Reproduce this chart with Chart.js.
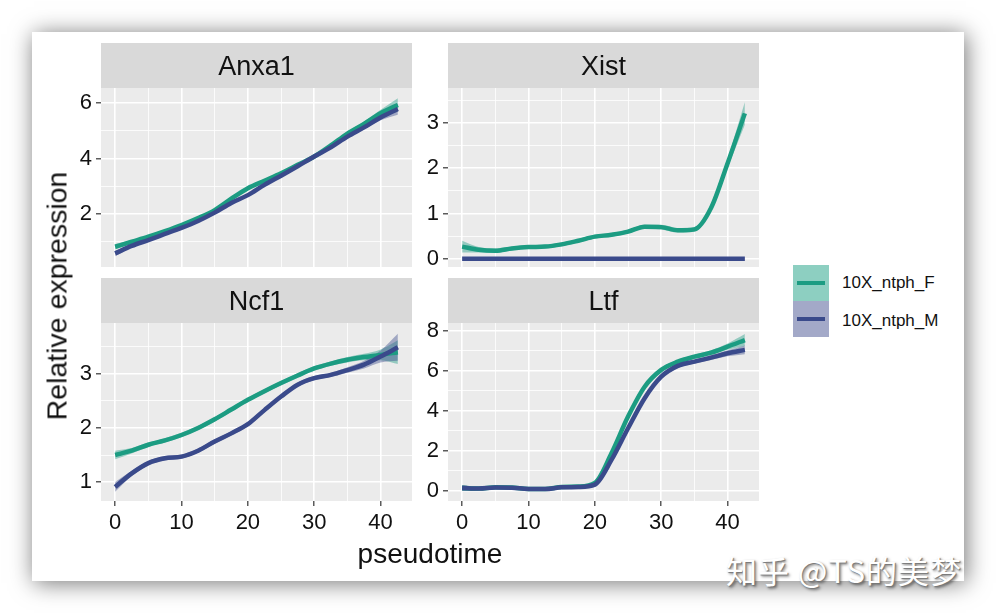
<!DOCTYPE html>
<html>
<head>
<meta charset="utf-8">
<script src="https://cdn.jsdelivr.net/npm/chart.js@4.4.0/dist/chart.umd.min.js"></script>
<style>
  body { margin: 0; width: 996px; height: 613px; background: #fff; position: relative; overflow: hidden;
         font-family: "Liberation Sans", Arial, sans-serif; }
  #card { position: absolute; left: 32px; top: 32px; width: 932px; height: 549px; background: #fff;
          box-shadow: 2px 2px 22px rgba(0,0,0,0.55); }
  canvas { position: absolute; }
  #ytitle { position: absolute; left: 57px; top: 296px; transform: translate(-50%, -50%) rotate(-90deg);
            font-size: 28.5px; color: #111; white-space: nowrap; }
  #xtitle { position: absolute; left: 430px; top: 554px; transform: translate(-50%, -50%);
            font-size: 28px; color: #111; white-space: nowrap; }
  .key { position: absolute; left: 793px; width: 36px; height: 36px; }
  .key i { position: absolute; left: 4px; right: 4px; top: 16px; height: 4px; }
  .lab { position: absolute; left: 842px; font-size: 17px; color: #111; line-height: 20px; }
  #mark { position: absolute; left: 726px; top: 553px; font-size: 31px; color: #fff; letter-spacing: 1px;
          font-family: "Noto Sans CJK SC", sans-serif; line-height: 34px;
          text-shadow: 1px 1px 1px #777, 2px 2px 3px rgba(0,0,0,0.5); white-space: nowrap; }
</style>
</head>
<body>
<div id="card"></div>
<canvas id="cAnxa1" width="352" height="224" style="left:62px;top:43px"></canvas>
<canvas id="cXist" width="352" height="224" style="left:409px;top:43px"></canvas>
<canvas id="cNcf1" width="352" height="263" style="left:62px;top:278px"></canvas>
<canvas id="cLtf" width="352" height="263" style="left:409px;top:278px"></canvas>
<div id="ytitle">Relative expression</div>
<div id="xtitle">pseudotime</div>
<div class="key" style="top:265px;background:#8dcfc1"><i style="background:#1c9c82"></i></div>
<div class="key" style="top:301px;background:#a3a9c8"><i style="background:#3a4a8b"></i></div>
<div class="lab" style="top:273px">10X_ntph_F</div>
<div class="lab" style="top:311px">10X_ntph_M</div>
<div id="mark">知乎 @TS的美梦</div>

<script>
// pseudotime positions where the curves were read
const pseudotime = [0, 2.5, 5, 7.5, 10, 12.5, 15, 17.5, 20, 22.5, 25, 27.5, 30, 32.5, 35, 37.5, 40, 42.6];
const seriesNames = ['10X_ntph_F', '10X_ntph_M'];
const xMajor = [0, 10, 20, 30, 40];

// Anxa1
const anxa1F = [0.82, 1.0, 1.18, 1.38, 1.6, 1.85, 2.14, 2.55, 2.93, 3.2, 3.47, 3.77, 4.07, 4.47, 4.9, 5.25, 5.63, 5.93];
const anxa1M = [0.58, 0.85, 1.06, 1.28, 1.5, 1.75, 2.05, 2.4, 2.68, 3.05, 3.38, 3.72, 4.07, 4.4, 4.79, 5.12, 5.48, 5.78];
const anxa1Fse = [0.1, 0.06, 0.05, 0.04, 0.04, 0.04, 0.04, 0.04, 0.04, 0.04, 0.04, 0.04, 0.04, 0.05, 0.06, 0.08, 0.13, 0.24];
const anxa1Mse = [0.1, 0.06, 0.05, 0.04, 0.04, 0.04, 0.04, 0.04, 0.04, 0.04, 0.04, 0.04, 0.04, 0.05, 0.05, 0.07, 0.1, 0.2];
const anxa1Ticks = [2, 4, 6];

// Xist
const xistF = [0.27, 0.2, 0.18, 0.23, 0.26, 0.27, 0.32, 0.4, 0.49, 0.53, 0.6, 0.71, 0.7, 0.63, 0.65, 1.12, 2.11, 3.21];
const xistM = [0, 0, 0, 0, 0, 0, 0, 0, 0, 0, 0, 0, 0, 0, 0, 0, 0, 0];
const xistFse = [0.13, 0.06, 0.05, 0.04, 0.04, 0.04, 0.04, 0.04, 0.04, 0.04, 0.04, 0.04, 0.05, 0.05, 0.05, 0.06, 0.1, 0.25];
const xistMse = [0, 0, 0, 0, 0, 0, 0, 0, 0, 0, 0, 0, 0, 0, 0, 0, 0, 0];
const xistTicks = [0, 1, 2, 3];

// Ncf1
const ncf1F = [1.5, 1.58, 1.69, 1.77, 1.87, 2.0, 2.16, 2.34, 2.52, 2.68, 2.83, 2.97, 3.1, 3.19, 3.26, 3.31, 3.35, 3.4];
const ncf1M = [0.91, 1.16, 1.35, 1.44, 1.47, 1.58, 1.75, 1.9, 2.07, 2.33, 2.58, 2.8, 2.92, 2.98, 3.07, 3.17, 3.32, 3.49];
const ncf1Fse = [0.08, 0.05, 0.04, 0.04, 0.04, 0.04, 0.04, 0.04, 0.04, 0.04, 0.04, 0.04, 0.04, 0.04, 0.05, 0.06, 0.1, 0.22];
const ncf1Mse = [0.09, 0.05, 0.04, 0.04, 0.04, 0.04, 0.04, 0.04, 0.04, 0.04, 0.04, 0.04, 0.04, 0.04, 0.05, 0.07, 0.11, 0.25];
const ncf1Ticks = [1, 2, 3];

// Ltf
const ltfF = [0.15, 0.12, 0.18, 0.17, 0.1, 0.1, 0.2, 0.22, 0.4, 1.88, 3.71, 5.2, 6.04, 6.45, 6.7, 6.9, 7.2, 7.53];
const ltfM = [0.15, 0.12, 0.17, 0.16, 0.1, 0.1, 0.18, 0.2, 0.32, 1.55, 3.13, 4.63, 5.7, 6.24, 6.45, 6.65, 6.87, 7.04];
const ltfFse = [0.15, 0.08, 0.06, 0.06, 0.06, 0.06, 0.06, 0.06, 0.06, 0.08, 0.1, 0.1, 0.1, 0.1, 0.1, 0.12, 0.16, 0.3];
const ltfMse = [0.15, 0.08, 0.06, 0.06, 0.06, 0.06, 0.06, 0.06, 0.06, 0.08, 0.1, 0.1, 0.1, 0.1, 0.1, 0.12, 0.15, 0.22];
const ltfTicks = [0, 2, 4, 6, 8];

const FONT = '"Liberation Sans", Arial, sans-serif';
const tealLine = '#1c9c82', navyLine = '#3a4a8b';
const tealFill = 'rgba(28,156,130,0.42)', navyFill = 'rgba(58,74,139,0.42)';

// gray panel + strip with the facet title
const facetBg = {
  id: 'facetBg',
  beforeDraw(chart, args, opts) {
    const { ctx, chartArea: a } = chart;
    ctx.save();
    ctx.fillStyle = '#EBEBEB';
    ctx.fillRect(a.left, a.top, a.right - a.left, a.bottom - a.top);
    ctx.fillStyle = '#D9D9D9';
    ctx.fillRect(a.left, a.top - 45, a.right - a.left, 45);
    ctx.fillStyle = '#111';
    ctx.font = '27px ' + FONT;
    ctx.textAlign = 'center';
    ctx.textBaseline = 'middle';
    ctx.fillText(opts.title, (a.left + a.right) / 2, a.top - 20);
    ctx.restore();
  }
};

function pts(vals) {
  return pseudotime.map((x, i) => ({ x: x, y: vals[i] }));
}

function ribbon(vals, se, color, order) {
  const up = vals.map((v, i) => v + se[i]);
  const lo = vals.map((v, i) => v - se[i]);
  return [
    { data: pts(up), borderWidth: 0, pointRadius: 0, fill: '+1', backgroundColor: color,
      cubicInterpolationMode: 'monotone', order: order },
    { data: pts(lo), borderWidth: 0, pointRadius: 0, fill: false,
      cubicInterpolationMode: 'monotone', order: order }
  ];
}

function withMinors(majors, step, min, max) {
  // every half step between the major breaks, like ggplot's minor grid
  const out = [];
  const first = majors[0] - step * 2;
  for (let v = first; v <= majors[majors.length - 1] + step * 2; v += step / 2) {
    if (v >= min && v <= max) out.push(Math.round(v * 100) / 100);
  }
  return out;
}

function makePanel(id, title, f, m, fse, mse, yMajor, yStep, yMin, yMax, showX) {
  const xMin = -2.13, xMax = 44.73;
  const isMajorY = v => yMajor.includes(v);
  const isMajorX = v => xMajor.includes(v);
  new Chart(document.getElementById(id), {
    type: 'line',
    data: {
      datasets: [
        { label: seriesNames[1], data: pts(m), borderColor: navyLine, borderWidth: 4.5, pointRadius: 0,
          fill: false, cubicInterpolationMode: 'monotone', order: 0 },
        { label: seriesNames[0], data: pts(f), borderColor: tealLine, borderWidth: 4.5, pointRadius: 0,
          fill: false, cubicInterpolationMode: 'monotone', order: 1 },
        ...ribbon(f, fse, tealFill, 3),
        ...ribbon(m, mse, navyFill, 2)
      ]
    },
    options: {
      responsive: false,
      animation: false,
      devicePixelRatio: 1,
      layout: { padding: { top: 45, right: 2, left: 0, bottom: 0 } },
      plugins: { legend: { display: false }, tooltip: { enabled: false }, facetBg: { title: title } },
      scales: {
        x: {
          type: 'linear', min: xMin, max: xMax,
          afterBuildTicks: s => { s.ticks = withMinors(xMajor, 10, xMin, xMax).map(v => ({ value: v })); },
          afterFit: s => { s.height = showX ? 40 : 0; s.paddingLeft = 0; s.paddingRight = 0; },
          ticks: { display: showX, autoSkip: false, maxRotation: 0, padding: 4, color: '#111',
                   font: { family: FONT, size: 22 },
                   callback: v => isMajorX(v) ? String(v) : '' },
          grid: { color: '#fff', lineWidth: c => isMajorX(c.tick.value) ? 1.6 : 0.8,
                  drawTicks: showX, tickLength: 5, tickWidth: 1.2,
                  tickColor: c => isMajorX(c.tick.value) ? '#333' : 'rgba(0,0,0,0)' },
          border: { display: false }
        },
        y: {
          type: 'linear', min: yMin, max: yMax,
          afterBuildTicks: s => { s.ticks = withMinors(yMajor, yStep, yMin, yMax).map(v => ({ value: v })); },
          afterFit: s => { s.width = 39; s.paddingTop = 0; s.paddingBottom = 0; },
          ticks: { autoSkip: false, padding: 4, color: '#111', font: { family: FONT, size: 22 },
                   callback: v => isMajorY(v) ? String(v) : '' },
          grid: { color: '#fff', lineWidth: c => isMajorY(c.tick.value) ? 1.6 : 0.8,
                  tickLength: 5, tickWidth: 1.2,
                  tickColor: c => isMajorY(c.tick.value) ? '#333' : 'rgba(0,0,0,0)' },
          border: { display: false }
        }
      }
    },
    plugins: [facetBg]
  });
}

makePanel('cAnxa1', 'Anxa1', anxa1F, anxa1M, anxa1Fse, anxa1Mse, anxa1Ticks, 2, 0.09, 6.54, false);
makePanel('cXist', 'Xist', xistF, xistM, xistFse, xistMse, xistTicks, 1, -0.18, 3.77, false);
makePanel('cNcf1', 'Ncf1', ncf1F, ncf1M, ncf1Fse, ncf1Mse, ncf1Ticks, 1, 0.65, 3.94, true);
makePanel('cLtf', 'Ltf', ltfF, ltfM, ltfFse, ltfMse, ltfTicks, 2, -0.5, 8.38, true);
</script>
</body>
</html>
